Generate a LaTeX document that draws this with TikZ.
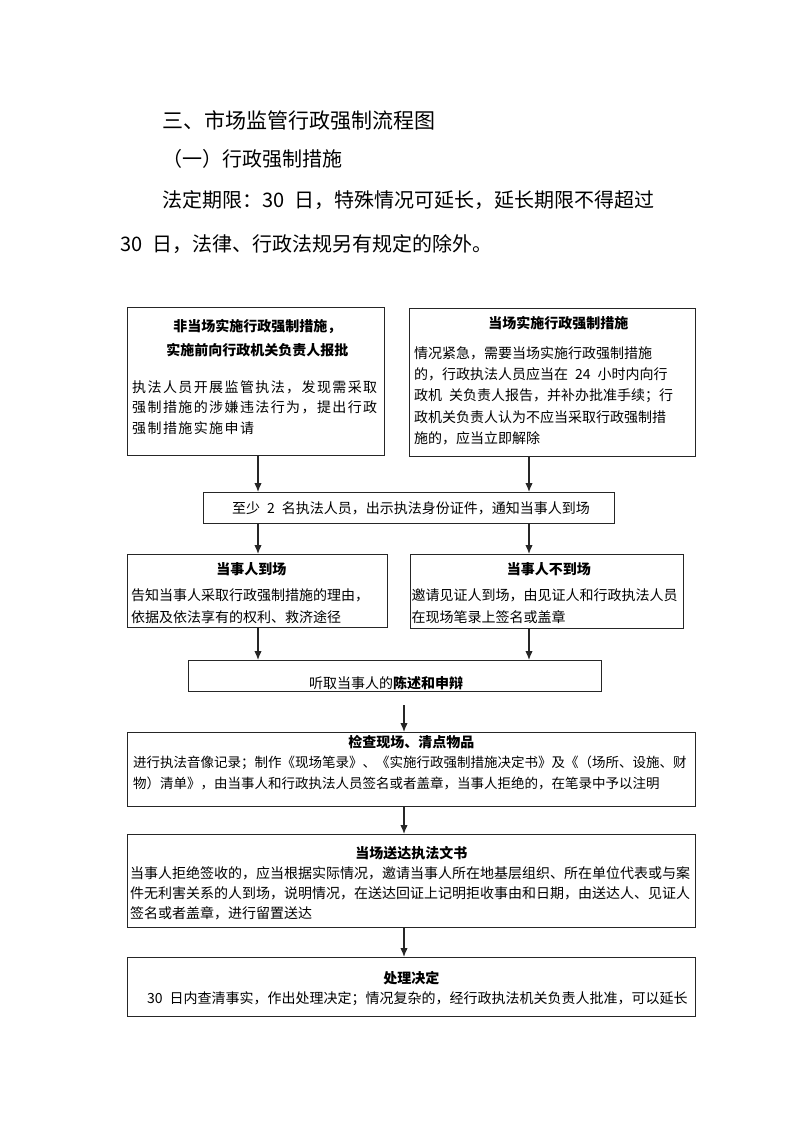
\documentclass[tikz,border=0pt]{standalone}
\usepackage{fontspec}
\setmainfont{Noto Sans CJK SC}
\newfontfamily\widefont[LetterSpace=10]{Noto Sans CJK SC}
\usepackage{tikz}
\usetikzlibrary{positioning}
\usetikzlibrary{arrows.meta}
\tikzset{>={Latex[length=9pt,width=7.5pt]}}
\usepackage{xcolor}
\colorlet{linecol}{black!85}
\newcommand{\sgap}{\hspace{0.5em}}
\tikzstyle{box}=[draw=linecol,line width=0.9pt,anchor=north west,inner sep=0pt]
\tikzstyle{head}=[font=\fontsize{14pt}{24pt}\selectfont\bfseries,inner sep=0pt,align=center]
\tikzstyle{body}=[font=\fontsize{14pt}{21pt}\selectfont,inner sep=0pt,align=left]
\tikzstyle{toptext}=[anchor=west,inner sep=0pt]
\tikzstyle{flow}=[->,line width=1.3pt,linecol]

\begin{document}
\begin{tikzpicture}[x=1pt,y=-1pt]
  \useasboundingbox (0,0) rectangle (794,1122);
  \coordinate (xl) at (258,0);
  \coordinate (xr) at (529,0);
  \coordinate (xm) at (404,0);

  % page text
  \node[toptext,font=\fontsize{21pt}{21pt}\selectfont] (title) at (162,121) {三、市场监管行政强制流程图};
  \node[toptext,font=\fontsize{20pt}{20pt}\selectfont] (sub) at (162,159) {（一）行政强制措施};
  \node[toptext,font=\fontsize{20pt}{20pt}\selectfont] (limA) at (162,200) {法定期限：30\sgap 日，特殊情况可延长，延长期限不得超过};
  \node[toptext,font=\fontsize{20pt}{20pt}\selectfont] (limB) at (120,244) {30\sgap 日，法律、行政法规另有规定的除外。};

  % boxes
  \node[box,minimum width=257pt,minimum height=148pt] (b1) at (127,307) {};
  \node[box,minimum width=286pt,minimum height=148pt] (b2) at (409,308) {};
  \node[box,minimum width=411pt,minimum height=31pt] (b3) at (203,492) {};
  \node[box,minimum width=260pt,minimum height=73pt] (b4) at (127,554) {};
  \node[box,minimum width=273pt,minimum height=74pt] (b5) at (410,554) {};
  \node[box,minimum width=413pt,minimum height=31pt] (b6) at (188,660) {};
  \node[box,minimum width=568pt,minimum height=74pt] (b7) at (127,732) {};
  \node[box,minimum width=568pt,minimum height=93pt] (b8) at (127,834) {};
  \node[box,minimum width=568pt,minimum height=59pt] (b9) at (127,957) {};

  % b1
  \node[head,below=12.4pt of b1.north,xshift=1.5pt] (b1h) {非当场实施行政强制措施，\\实施前向行政机关负责人报批};
  \node[body,font=\widefont\fontsize{14pt}{20.5pt}\selectfont,below right=73.4pt and 5pt of b1.north west] (b1t) {执法人员开展监管执法，发现需采取\\
    强制措施的涉嫌违法行为，提出行政\\
    强制措施实施申请};

  % b2
  \node[head,below=8.4pt of b2.north,xshift=6pt] (b2h) {当场实施行政强制措施};
  \node[body,font=\fontsize{14pt}{21.2pt}\selectfont,below right=38.4pt and 5pt of b2.north west] (b2t) {情况紧急，需要当场实施行政强制措施\\
    的，行政执法人员应当在\sgap 24\sgap 小时内向行\\
    政机\sgap 关负责人报告，并补办批准手续；行\\
    政机关负责人认为不应当采取行政强制措\\
    施的，应当立即解除};

  % b3
  \node[body,anchor=west,right=29pt of b3.west] (b3t) {至少\sgap 2\sgap 名执法人员，出示执法身份证件，通知当事人到场};

  % b4, b5
  \node[head,below=8.4pt of b4.north,xshift=-6pt] (b4h) {当事人到场};
  \node[body,font=\fontsize{14pt}{22pt}\selectfont,below right=34.4pt and 4pt of b4.north west] (b4t) {告知当事人采取行政强制措施的理由，\\
    依据及依法享有的权利、救济途径};
  \node[head,below=8.4pt of b5.north,xshift=2pt] (b5h) {当事人不到场};
  \node[body,font=\fontsize{14pt}{22pt}\selectfont,below right=34.4pt and 1.5pt of b5.north west] (b5t) {邀请见证人到场，由见证人和行政执法人员\\
    在现场笔录上签名或盖章};

  % b6
  \node[body,below right=16.4pt and 121pt of b6.north west] (b6t) {听取当事人的\textbf{陈述和申辩}};

  % b7
  \node[head,below=3.4pt of b7.north] (b7h) {检查现场、清点物品};
  \node[body,font=\fontsize{13.5pt}{21pt}\selectfont,below right=23.6pt and 6pt of b7.north west] (b7t) {进行执法音像记录；制作《现场笔录》、《实施行政强制措施决定书》及《（场所、设施、财\\
    物）清单》，由当事人和行政执法人员签名或者盖章，当事人拒绝的，在笔录中予以注明};

  % b8
  \node[head,below=12.4pt of b8.north] (b8h) {当场送达执法文书};
  \node[body,font=\fontsize{14pt}{20pt}\selectfont,below right=32.4pt and 3pt of b8.north west] (b8t) {当事人拒绝签收的，应当根据实际情况，邀请当事人所在地基层组织、所在单位代表或与案\\
    件无利害关系的人到场，说明情况，在送达回证上记明拒收事由和日期，由送达人、见证人\\
    签名或者盖章，进行留置送达};

  % b9
  \node[head,below=14.4pt of b9.north] (b9h) {处理决定};
  \node[body,below right=34.4pt and 20pt of b9.north west] (b9t) {30\sgap 日内查清事实，作出处理决定；情况复杂的，经行政执法机关负责人批准，可以延长};

  % arrows
  \draw[flow] (b1.south -| xl) -- (b3.north -| xl);
  \draw[flow] (b2.south -| xr) -- (b3.north -| xr);
  \draw[flow] (b3.south -| xl) -- (b4.north -| xl);
  \draw[flow] (b3.south -| xr) -- (b5.north -| xr);
  \draw[flow] (b4.south -| xl) -- (b6.north -| xl);
  \draw[flow] (b5.south -| xr) -- (b6.north -| xr);
  \coordinate (g6) at (404,705);
  \draw[flow] (g6) -- (b7.north -| g6);
  \draw[flow] (b7.south -| xm) -- (b8.north -| xm);
  \draw[flow] (b8.south -| xm) -- (b9.north -| xm);

\end{tikzpicture}
\end{document}
